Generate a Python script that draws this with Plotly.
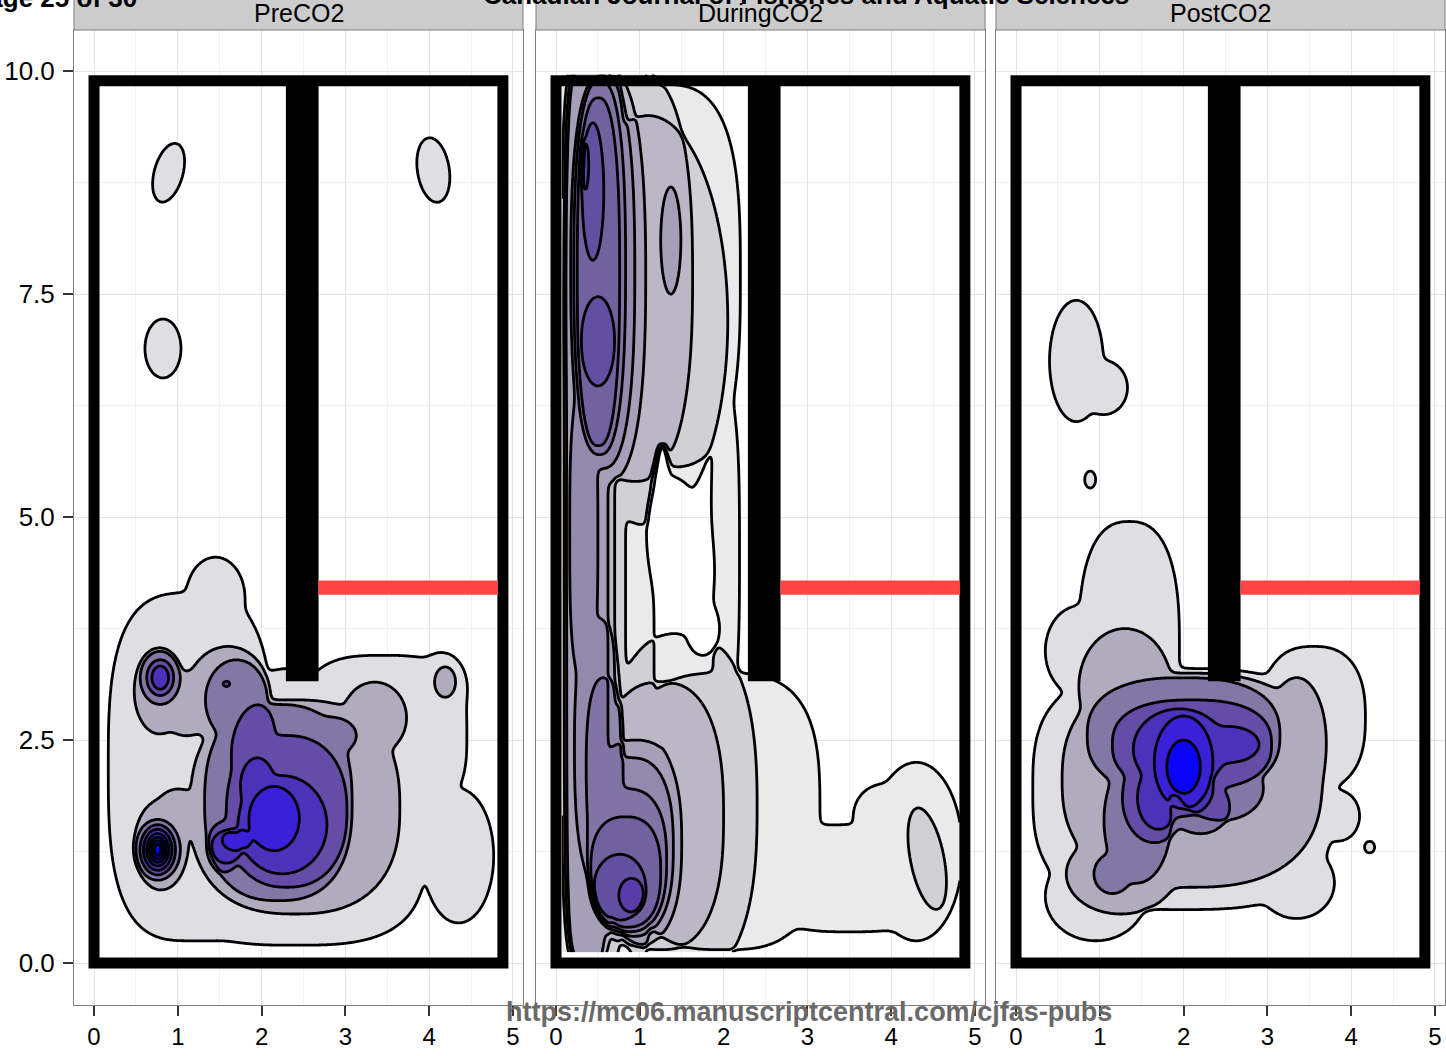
import numpy as np
import plotly.graph_objects as go

# ---------------- data ----------------
panel_names = ["PreCO2", "DuringCO2", "PostCO2"]
x_ticks = [0, 1, 2, 3, 4, 5]
y_ticks = [0.0, 2.5, 5.0, 7.5, 10.0]
y_ticktext = ["0.0", "2.5", "5.0", "7.5", "10.0"]

# enclosure outline, barrier and CO2 line (data units)
outline_x = [0.0, 4.88]
outline_y = [0.0, 9.89]
barrier_x = [2.29, 2.68]
barrier_y = [3.16, 9.89]
co2_x = [2.68, 4.82]
co2_y = [4.13, 4.29]

# density level regions:
# (level, centre x, centre y, half-width, half-height, shape exponent, tilt deg, +1 region / -1 hole)
pre_regions = [
    (1, 0.89, 8.86, 0.17, 0.34, 2, -17, 1),
    (1, 0.823, 6.89, 0.215, 0.33, 2, 0, 1),
    (1, 4.05, 8.89, 0.19, 0.365, 2, 9.5, 1),
    (1, 1.15, 2.2, 0.98, 1.95, 3, 0, 1),
    (1, 1.45, 4.1, 0.35, 0.45, 2, 0, 1),
    (1, 2.4, 1.3, 1.55, 1.1, 3, 0, 1),
    (1, 3.45, 2.55, 1.0, 0.9, 3, 0, 1),
    (1, 4.35, 1.2, 0.42, 0.75, 2, 0, 1),
    (1, 2.3, 2.6, 0.6, 0.7, 2, 0, 1),
    (1, 4.15, 3.1, 0.3, 0.38, 2, 0, 1),
    (2, 2.4, 1.75, 1.25, 1.2, 2.5, 0, 1),
    (2, 1.6, 3.0, 0.5, 0.55, 2, 0, 1),
    (2, 3.35, 2.75, 0.38, 0.4, 2, 0, 1),
    (2, 0.78, 3.05, 0.3, 0.48, 2, 0, 1),
    (2, 1.1, 2.9, 0.3, 0.35, 2, 0, 1),
    (2, 0.8, 1.32, 0.32, 0.5, 2, 0, 1),
    (2, 1.0, 1.7, 0.25, 0.25, 2, 0, 1),
    (2, 4.19, 3.15, 0.125, 0.17, 2, 0, 1),
    (3, 2.2, 1.8, 0.88, 1.1, 2.5, 0, 1),
    (3, 1.7, 2.95, 0.37, 0.45, 2, 0, 1),
    (3, 2.85, 2.55, 0.28, 0.2, 2, 0, 1),
    (3, 0.79, 3.2, 0.24, 0.30, 2, 0, 1),
    (3, 0.76, 1.27, 0.27, 0.34, 2, 0, 1),
    (4, 2.3, 1.7, 0.72, 0.85, 2.3, 0, 1),
    (4, 1.55, 1.3, 0.2, 0.28, 2, 0, 1),
    (4, 1.9, 2.45, 0.25, 0.45, 2, -10, 1),
    (4, 1.58, 3.13, 0.04, 0.03, 2, 0, 1),
    (4, 0.79, 3.2, 0.16, 0.2, 2, 0, 1),
    (4, 0.76, 1.27, 0.21, 0.28, 2, 0, 1),
    (5, 2.25, 1.55, 0.53, 0.55, 2, 0, 1),
    (5, 1.95, 2.0, 0.2, 0.3, 2, 0, 1),
    (5, 1.58, 1.3, 0.18, 0.18, 2, 0, 1),
    (5, 0.79, 3.2, 0.10, 0.13, 2, 0, 1),
    (5, 0.76, 1.27, 0.17, 0.23, 2, 0, 1),
    (6, 2.15, 1.62, 0.3, 0.36, 2, 0, 1),
    (6, 1.7, 1.38, 0.17, 0.12, 2, 0, 1),
    (6, 0.76, 1.27, 0.13, 0.18, 2, 0, 1),
    (7, 0.76, 1.27, 0.10, 0.14, 2, 0, 1),
    (8, 0.76, 1.27, 0.07, 0.10, 2, 0, 1),
    (9, 0.76, 1.27, 0.045, 0.065, 2, 0, 1),
]

during_regions = [
    (1, 0.55, 5.05, 0.62, 5.3, 6, 0, 1),
    (1, 1.25, 7.7, 0.95, 2.15, 3, 0, 1),
    (1, 2.02, 4.6, 0.17, 1.7, 3, 0, 1),
    (1, 2.0, 1.7, 1.15, 1.55, 3, 0, 1),
    (1, 3.5, 0.95, 1.0, 0.6, 3, 0, 1),
    (1, 4.3, 1.25, 0.55, 1.0, 2, 0, 1),
    (1, 3.9, 1.65, 0.35, 0.35, 2, 0, 1),
    (1, 1.48, 4.6, 0.38, 0.85, 2, 8, -1),
    (1, 1.75, 3.75, 0.2, 0.3, 2, 0, -1),
    (1, 1.27, 5.35, 0.09, 0.45, 2, 0, -1),
    (2, 0.45, 5.05, 0.38, 5.1, 6, 0, 1),
    (2, 1.1, 7.2, 0.95, 2.3, 2, 0, 1),
    (2, 1.5, 1.75, 0.9, 1.95, 2.5, 0, 1),
    (2, 4.43, 1.17, 0.2, 0.58, 2, 12, 1),
    (3, 0.4, 5.05, 0.3, 5.0, 6, 0, 1),
    (3, 0.95, 7.7, 0.68, 2.3, 2.5, 0, 1),
    (3, 1.25, 1.65, 0.75, 1.5, 2.5, 0, 1),
    (4, 0.37, 5.0, 0.25, 5.0, 6, 0, 1),
    (4, 0.61, 7.7, 0.46, 2.3, 2.5, 0, 1),
    (4, 1.37, 8.1, 0.12, 0.6, 2, 0, 1),
    (4, 0.95, 1.35, 0.55, 1.15, 2.5, 0, 1),
    (4, 1.23, 2.15, 0.07, 0.23, 2, 0, 1),
    (5, 0.56, 7.75, 0.38, 2.2, 2.5, 0, 1),
    (5, 0.5, 2.4, 0.28, 1.45, 2.5, 0, 1),
    (5, 0.9, 1.3, 0.5, 1.0, 2.5, 0, 1),
    (5, 0.33, 4.8, 0.17, 1.5, 3, 0, 1),
    (6, 0.52, 7.8, 0.31, 2.1, 2.5, 0, 1),
    (6, 0.58, 2.2, 0.22, 1.0, 2.5, 0, 1),
    (6, 0.85, 1.15, 0.47, 0.8, 2.5, 0, 1),
    (7, 0.505, 7.75, 0.255, 1.95, 2.5, 0, 1),
    (7, 0.83, 1.02, 0.42, 0.62, 2.5, 0, 1),
    (8, 0.44, 8.65, 0.13, 0.77, 2, 0, 1),
    (8, 0.5, 6.97, 0.2, 0.5, 2, 0, 1),
    (8, 0.76, 0.85, 0.31, 0.37, 2, 0, 1),
    (9, 0.35, 8.95, 0.04, 0.28, 2, 0, 1),
    (9, 0.9, 0.76, 0.15, 0.19, 2, 0, 1),
]

post_regions = [
    (1, 0.72, 6.75, 0.32, 0.68, 2, 0, 1),
    (1, 1.05, 6.45, 0.28, 0.3, 2, 0, 1),
    (1, 0.885, 5.42, 0.065, 0.095, 2, 0, 1),
    (1, 4.22, 1.30, 0.06, 0.065, 2, 0, 1),
    (1, 1.35, 3.6, 0.6, 1.35, 2.5, 0, 1),
    (1, 2.0, 1.95, 1.8, 1.35, 3, 0, 1),
    (1, 0.95, 0.75, 0.6, 0.5, 2, 0, 1),
    (1, 3.35, 0.9, 0.45, 0.4, 2, 0, 1),
    (1, 3.55, 2.75, 0.62, 0.8, 2.5, 0, 1),
    (1, 3.85, 1.65, 0.25, 0.28, 2, 0, 1),
    (1, 0.75, 3.5, 0.4, 0.5, 2, 0, 1),
    (2, 2.1, 2.05, 1.55, 1.2, 2.5, 0, 1),
    (2, 1.25, 1.0, 0.65, 0.45, 2, 0, 1),
    (2, 1.3, 3.1, 0.55, 0.65, 2, 0, 1),
    (2, 3.35, 2.5, 0.35, 0.7, 2, 0, 1),
    (3, 2.0, 2.55, 1.15, 0.65, 2.5, 0, 1),
    (3, 1.45, 1.6, 0.4, 0.7, 2, 0, 1),
    (3, 1.15, 1.0, 0.22, 0.22, 2, 0, 1),
    (3, 2.45, 1.95, 0.5, 0.35, 2, 0, 1),
    (4, 2.1, 2.45, 0.95, 0.5, 2.5, 0, 1),
    (4, 1.65, 1.85, 0.38, 0.5, 2, 0, 1),
    (4, 2.2, 1.75, 0.35, 0.3, 2, 0, 1),
    (5, 1.95, 2.4, 0.55, 0.45, 2, 0, 1),
    (5, 2.55, 2.45, 0.35, 0.2, 2, 0, 1),
    (5, 1.7, 1.85, 0.25, 0.35, 2, 0, 1),
    (5, 2.0, 1.95, 0.35, 0.3, 2, 0, 1),
    (6, 2.0, 2.25, 0.35, 0.52, 2, 0, 1),
    (7, 2.0, 2.2, 0.2, 0.3, 2, 0, 1),
]

# fill colour of each density band (band 1 = outermost)
pre_post_colors = ["rgb(223,223,227)", "rgb(177,171,190)", "rgb(131,119,165)",
                   "rgb(101,76,166)", "rgb(76,50,186)", "rgb(59,32,216)",
                   "rgb(10,5,250)", "rgb(5,2,252)", "rgb(0,0,255)"]
during_colors = ["rgb(234,234,234)", "rgb(209,208,213)", "rgb(187,183,198)",
                 "rgb(166,159,183)", "rgb(147,137,173)", "rgb(129,116,164)",
                 "rgb(113,97,159)", "rgb(99,79,162)", "rgb(88,60,168)"]

# sampling grid extents (data range of each panel)
grid_x = [(0.0, 4.9), (0.07, 4.82), (0.0, 4.9)]
grid_y = [(0.0, 9.96), (0.12, 9.96), (0.0, 9.96)]


# ---------------- density field from level regions ----------------
def signed_dist(X, Y, cx, cy, ax, ay, n, ang):
    t = np.deg2rad(ang)
    c, s = np.cos(t), np.sin(t)
    dx, dy = X - cx, Y - cy
    u = dx * c + dy * s
    v = -dx * s + dy * c
    au = np.abs(u) / ax + 1e-12
    av = np.abs(v) / ay + 1e-12
    r = (au ** n + av ** n) ** (1.0 / n)
    gu = r ** (1 - n) * au ** (n - 1) / ax
    gv = r ** (1 - n) * av ** (n - 1) / ay
    g = np.sqrt(gu ** 2 + gv ** 2)
    return np.clip((1 - r) / np.maximum(g, 1e-6), -3, 3)


def density(regions, xr, yr, nx=330, ny=660):
    xs = np.linspace(xr[0], xr[1], nx)
    ys = np.linspace(yr[0], yr[1], ny)
    X, Y = np.meshgrid(xs, ys)
    wu, ws = 0.04, 0.014
    z = np.zeros_like(X)
    nlev = max(r[0] for r in regions)
    holes = [r for r in regions if r[7] < 0]
    for k in range(1, nlev + 1):
        pos = [r for r in regions if r[0] == k and r[7] > 0]
        if not pos:
            continue
        ds = np.stack([signed_dist(X, Y, *r[1:7]) / wu for r in pos])
        F = wu * np.logaddexp.reduce(ds, axis=0)
        for r in holes:
            if r[0] <= k:
                dh = signed_dist(X, Y, *r[1:7])
                F = -wu * np.logaddexp(-F / wu, dh / wu)
        z += 1.0 / (1.0 + np.exp(-np.clip(F / ws, -60, 60)))
    return xs, ys, np.round(z, 3), nlev


# ---------------- figure ----------------
W, H = 1446, 1056
xdom = [(74 / W, 523 / W), (536 / W, 985 / W), (996 / W, 1445 / W)]
ydom = (1 - 1005 / H, 1 - 30 / H)

fig = go.Figure()
all_regions = [pre_regions, during_regions, post_regions]
all_colors = [pre_post_colors, during_colors, pre_post_colors]

for i in range(3):
    xs, ys, z, nlev = density(all_regions[i], grid_x[i], grid_y[i])
    cols = all_colors[i]
    cscale = [[0.0, "rgba(255,255,255,0)"]] + [[k / nlev, cols[k - 1]] for k in range(1, nlev + 1)]
    sfx = "" if i == 0 else str(i + 1)
    fig.add_trace(go.Contour(
        x=xs, y=ys, z=z, xaxis="x" + sfx, yaxis="y" + sfx,
        autocontour=False,
        contours=dict(start=0.5, end=nlev - 0.5, size=1, coloring="fill", showlines=True),
        colorscale=cscale, showscale=False,
        line=dict(color="black", width=2.8, smoothing=1),
        hoverinfo="skip",
    ))

axis_common = dict(
    showline=True, mirror=True, linecolor="#7f7f7f", linewidth=1,
    showgrid=True, gridcolor="#e4e4e4", gridwidth=1, zeroline=False,
    ticks="outside", ticklen=10, tickcolor="#333333", tickwidth=1.5,
    tickfont=dict(family="Liberation Sans, Arial, sans-serif", size=24, color="black"),
)

layout = dict(
    width=W, height=H, margin=dict(l=0, r=0, t=0, b=0),
    paper_bgcolor="white", plot_bgcolor="white", showlegend=False,
    font=dict(family="Liberation Sans, Arial, sans-serif"),
)
for i in range(3):
    sfx = "" if i == 0 else str(i + 1)
    layout["xaxis" + sfx] = dict(
        axis_common, domain=list(xdom[i]), range=[-0.239, 5.12],
        tickvals=x_ticks, ticktext=[str(v) for v in x_ticks],
        anchor="y" + sfx,
        minor=dict(dtick=0.5, tick0=0, showgrid=True, gridcolor="#f1f1f1", ticks=""),
    )
    ya = dict(
        axis_common, domain=list(ydom), range=[-0.47, 10.46],
        tickvals=y_ticks, ticktext=y_ticktext, anchor="x" + sfx,
        minor=dict(dtick=1.25, tick0=0, showgrid=True, gridcolor="#f1f1f1", ticks=""),
    )
    if i > 0:
        ya.update(showticklabels=False, ticks="")
    else:
        ya.update(ticklabelstandoff=3,
                  tickfont=dict(family="Liberation Sans, Arial, sans-serif", size=26, color="black"))
    layout["yaxis" + sfx] = ya

fig.update_layout(**layout)

shapes = []
annotations = []
for i in range(3):
    sfx = "" if i == 0 else str(i + 1)
    xr, yr = "x" + sfx, "y" + sfx
    shapes.append(dict(type="rect", xref=xr, yref=yr, x0=outline_x[0], x1=outline_x[1],
                       y0=outline_y[0], y1=outline_y[1], line=dict(color="black", width=11),
                       fillcolor="rgba(0,0,0,0)", layer="above"))
    shapes.append(dict(type="rect", xref=xr, yref=yr, x0=barrier_x[0], x1=barrier_x[1],
                       y0=barrier_y[0], y1=barrier_y[1], line=dict(width=0),
                       fillcolor="black", layer="above"))
    shapes.append(dict(type="rect", xref=xr, yref=yr, x0=co2_x[0], x1=co2_x[1],
                       y0=co2_y[0], y1=co2_y[1], line=dict(width=0),
                       fillcolor="#ff4545", layer="above"))
    # facet strip
    shapes.append(dict(type="rect", xref="paper", yref="paper", x0=xdom[i][0], x1=xdom[i][1],
                       y0=ydom[1], y1=1.05, fillcolor="#cccccc",
                       line=dict(color="#7f7f7f", width=1), layer="above"))
    annotations.append(dict(text=panel_names[i], xref="paper", yref="paper",
                            x=(xdom[i][0] + xdom[i][1]) / 2, y=1 - 13 / H,
                            xanchor="center", yanchor="middle", showarrow=False,
                            font=dict(size=25, color="black")))

annotations.append(dict(text="<b>Page 25 of 30</b>", xref="paper", yref="paper",
                        x=-31 / W, y=1 - 15 / H, xanchor="left", yanchor="bottom",
                        showarrow=False, font=dict(size=26, color="black")))
annotations.append(dict(text="<b>Canadian Journal of Fisheries and Aquatic Sciences</b>",
                        xref="paper", yref="paper", x=806 / W, y=1 - 12 / H,
                        xanchor="center", yanchor="bottom", showarrow=False,
                        font=dict(size=26, color="black")))
annotations.append(dict(text="<b>https://mc06.manuscriptcentral.com/cjfas-pubs</b>",
                        xref="paper", yref="paper", x=809 / W, y=1 - 1012 / H,
                        xanchor="center", yanchor="middle", showarrow=False,
                        font=dict(size=27, color="rgb(105,105,105)")))

fig.update_layout(shapes=shapes, annotations=annotations)
fig.write_html("out.html")
